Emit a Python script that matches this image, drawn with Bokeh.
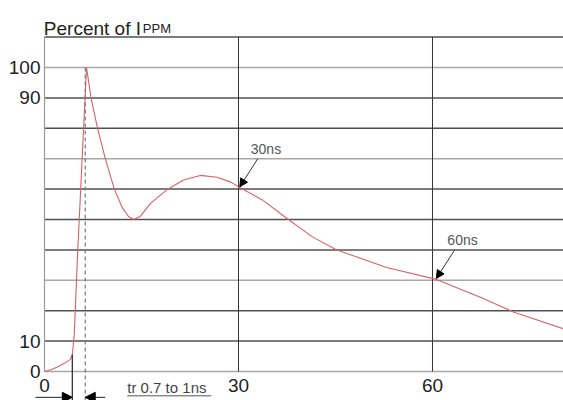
import numpy as np
from bokeh.plotting import figure
from bokeh.models import Range1d, FixedTicker, Arrow, NormalHead, Label
from bokeh.core.properties import value
from bokeh.embed import file_html
from bokeh.resources import INLINE

# ---- data ----
t_ns = [0, 1, 2, 3, 4, 4.3, 4.6, 5.1, 5.6, 6.0, 6.5, 7.2, 8.2, 9.4, 10.8, 12.0,
        13.0, 13.8, 14.8, 16.4, 19.0, 21.5, 24.1, 26.7, 28.8, 30.2, 33.8, 37.7,
        41.5, 45.2, 52.9, 60.6, 67.4, 72.5, 80.2]
pct = [0, 0.6, 1.5, 2.6, 4.0, 5.5, 12, 38, 60, 78, 100, 90, 80, 70, 60, 54,
       51, 50, 51, 55.3, 59.9, 63, 64.5, 63.9, 62.3, 60.5, 56.3, 50, 44.2, 40,
       34.2, 30.3, 24.4, 19.6, 14.1]

y_tick_labels = [0, 10, 90, 100]
x_tick_labels = [0, 30, 60]
dark_grid = [10, 20, 40, 50, 60, 80, 90, 110]
light_grid = [0, 30, 70, 100]
vert_grid = [30, 60]

ann_t = [30, 60]
ann_text = ["30ns", "60ns"]
rise_marks = [4.3, 6.3]          # start / end of rise-time interval (ns)
tr_text = "tr 0.7 to 1ns"

FONT = "Liberation Sans"
X0, X1 = -2.165, 80.26
Y0, Y1 = -9.54, 122.04
YTOP = 110

p = figure(width=563, height=400, output_backend="svg", toolbar_location=None,
           x_range=Range1d(X0, X1), y_range=Range1d(Y0, Y1),
           x_axis_location=None,
           min_border_left=30, min_border_right=0, min_border_top=0,
           min_border_bottom=0)
p.outline_line_color = None
p.background_fill_color = "white"
p.grid.visible = False

# y axis (real axis); labels pulled in to sit just left of the zero line
p.yaxis.ticker = FixedTicker(ticks=y_tick_labels)
ax = p.yaxis[0]
ax.major_tick_in = 0
ax.major_tick_out = 0
ax.minor_tick_in = 0
ax.minor_tick_out = 0
ax.axis_line_color = None
ax.major_label_text_font = FONT
ax.major_label_text_font_size = "19px"
ax.major_label_text_color = "#222222"
ax.major_label_standoff = -10

# x tick labels under the zero line
p.text(x=x_tick_labels, y=[-4.6] * len(x_tick_labels),
       text=[str(v) for v in x_tick_labels],
       text_font=value(FONT), text_font_size="19px", text_color="#222222",
       text_align="center", text_baseline="middle")

# grid lines
p.segment(x0=[0] * len(dark_grid), y0=dark_grid, x1=[X1] * len(dark_grid), y1=dark_grid,
          line_color="#505050", line_width=1.5)
p.segment(x0=[0] * len(light_grid), y0=light_grid, x1=[X1] * len(light_grid), y1=light_grid,
          line_color="#a8a8a8", line_width=1.5)
p.segment(x0=vert_grid, y0=[0] * len(vert_grid), x1=vert_grid, y1=[YTOP] * len(vert_grid),
          line_color="#333333", line_width=1)
p.segment(x0=[0], y0=[0], x1=[0], y1=[YTOP], line_color="#999999", line_width=1.2)

# curve
p.line(t_ns, pct, line_color="#d9606a", line_width=1.1)

# annotations 30ns / 60ns
for tt, txt in zip(ann_t, ann_text):
    yy = float(np.interp(tt, t_ns, pct))
    xe = tt + (0.2 if tt == 30 else 0.6)
    p.add_layout(Arrow(end=NormalHead(size=8, fill_color="black", line_color="black"),
                       x_start=xe + 2.8, y_start=yy + 9.3, x_end=xe, y_end=yy,
                       line_color="#333333", line_width=1))
    p.add_layout(Label(x=xe + 1.7, y=yy + 12.5, text=txt, text_font=FONT,
                       text_font_size="14px", text_color="#555555",
                       text_baseline="middle"))

# rise-time markers
t0, t1 = rise_marks
y0 = float(np.interp(t0, t_ns, pct))
p.add_layout(Arrow(end=None, x_start=t0, y_start=y0, x_end=t0, y_end=Y0,
                   line_color="#222222", line_width=1.2))
p.add_layout(Arrow(end=None, x_start=t1, y_start=100, x_end=t1, y_end=Y0,
                   line_color="#777777", line_width=1.2, line_dash="4 3"))
p.add_layout(Arrow(end=NormalHead(size=10, fill_color="black", line_color="black"),
                   x_start=t0 - 5.7, y_start=-8.5, x_end=t0, y_end=-8.5,
                   line_color="#222222", line_width=1))
p.add_layout(Arrow(end=NormalHead(size=10, fill_color="black", line_color="black"),
                   x_start=t1 + 3.1, y_start=-8.5, x_end=t1, y_end=-8.5,
                   line_color="#222222", line_width=1))
p.add_layout(Label(x=12.8, y=-5.4, text=tr_text, text_font=FONT,
                   text_font_size="15px", text_color="#444444",
                   text_baseline="middle"))
p.add_layout(Arrow(end=None, x_start=12.8, y_start=-8.0, x_end=25.8, y_end=-8.0,
                   line_color="#555555", line_width=1))

# title "Percent of I_PPM"
p.add_layout(Label(x=-0.1, y=112.8, text="Percent of I", text_font=FONT,
                   text_font_size="19px", text_color="#222222",
                   text_baseline="alphabetic"))
p.add_layout(Label(x=15.2, y=112.8, text="PPM", text_font=FONT,
                   text_font_size="13px", text_color="#222222",
                   text_baseline="alphabetic"))

open("out.html", "w").write(file_html(p, INLINE))
